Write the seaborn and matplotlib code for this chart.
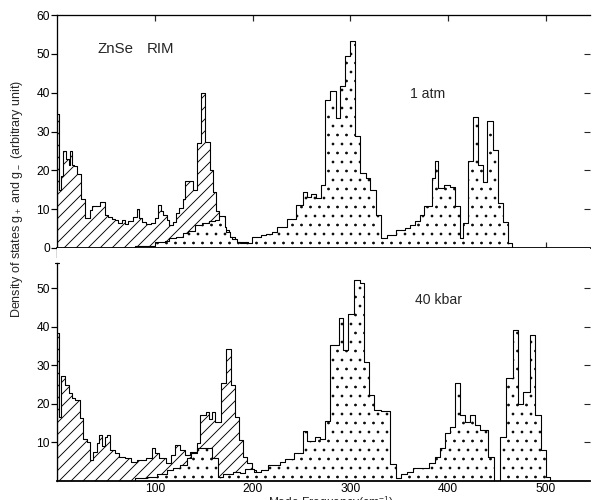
import numpy as np
import pandas as pd
import matplotlib
matplotlib.use("Agg")
import matplotlib.pyplot as plt
import matplotlib.hatch as mhatch
import seaborn as sns

# ---- phonon density-of-states histograms (mode frequency in cm^-1) ----
# 1 atm, acoustic-like band (hatched)
atm_hatched_edges = [0, 2, 4, 6.5, 9, 12, 13.5, 15, 17.5, 20, 24.5, 29, 34, 36, 39, 44, 49,
                     52.5, 56, 59, 62.5, 66, 69.5, 73, 78, 81.5, 84, 87, 91.5, 96.5, 100,
                     103.5, 106, 108.5, 112, 115, 118.5, 122, 125, 129, 131, 139, 143,
                     147.5, 151.5, 156, 160, 163, 166, 171, 176, 182, 195, 215, 260]
atm_hatched_heights = [34.5, 15, 18.5, 25, 23, 21.5, 25, 21.5, 21, 19, 12.5, 7.6, 9.8, 10.8,
                       10.7, 11.9, 8.5, 7.9, 7.4, 7.2, 6.4, 7.2, 6.1, 7, 8, 10, 7.6, 6.8, 6.2,
                       6.5, 7.6, 11, 9.4, 8.5, 7.2, 5.9, 6.8, 9, 10.2, 12.5, 17.3, 15, 27, 40,
                       27.3, 20, 14.5, 9.5, 8, 4.6, 2.8, 1.5, 0.6, 0.3]

# 1 atm, optic-like band (dotted)
atm_dotted_edges = [80, 90, 100, 110, 115, 122, 129, 134, 141, 148, 155, 161.5, 166, 172, 173,
                    177, 179, 184, 187, 199, 209, 214, 220, 225, 235, 244, 252, 256, 260, 265,
                    270, 274.5, 279.5, 285, 289.5, 294.5, 300, 305, 310, 316, 320, 326, 331,
                    337, 347, 356, 361, 366, 371, 375, 383, 386, 390, 396, 402, 407, 412, 415,
                    420, 425.5, 430.5, 436, 440, 445.5, 451, 456, 461, 465]
atm_dotted_heights = [0.6, 0.4, 1.6, 1.8, 2.5, 2.9, 3.8, 4.4, 5.9, 6.5, 7.0, 7.2, 8.2, 5.5, 4.2,
                      2.9, 2.2, 1.6, 1.2, 2.9, 3.4, 3.6, 4.2, 5.3, 7.4, 11.1, 14.5, 13.2, 13.8,
                      12.8, 16.2, 38, 40.5, 33.4, 41.7, 49.5, 53.4, 28.8, 19.2, 18, 15, 8.5,
                      2.6, 3.4, 4.6, 5.2, 5.8, 6.9, 8.5, 10.7, 18, 22.3, 15.4, 16.2, 15.8, 10.7,
                      2.5, 6.4, 22.3, 33.7, 21.5, 17, 32.8, 25.3, 11.5, 6.7, 1.2]

# 40 kbar, acoustic-like band (hatched)
kbar_hatched_edges = [0, 2, 4.5, 8.5, 12, 15, 18.5, 23.5, 27, 30.3, 33.7, 37, 40.5, 43.3, 46,
                      49, 51, 54, 59, 63, 70, 76, 81.5, 91.5, 97, 100, 104, 111, 117, 121, 126,
                      131, 136, 143, 146, 152, 155, 158, 161.5, 168, 173, 177.5, 182, 186, 190,
                      194, 199, 203, 230, 270]
kbar_hatched_heights = [38.5, 16.5, 27.2, 25, 22.8, 21.5, 21, 16.3, 11, 10.2, 5.5, 7.6, 9.8, 12,
                        9.2, 11.5, 12, 8, 7.2, 6.3, 5.9, 5, 5.5, 5.9, 8.5, 7.2, 5.9, 4.8, 6.8,
                        9.4, 8, 6.8, 7.6, 9.8, 17.1, 17.8, 16.2, 18, 15.4, 25.4, 34.3, 25, 16.7,
                        10.6, 6.3, 4.6, 2.9, 1.2, 0.4]

# 40 kbar, optic-like band (dotted)
kbar_dotted_edges = [80, 92, 102, 112, 119, 126, 132.5, 137.5, 143, 158, 165, 170, 180, 187, 192,
                     201, 209, 216, 228, 233, 242, 252, 255.5, 264, 269, 274.5, 279, 288.5,
                     292.5, 298, 304, 310, 314, 319, 324.5, 331, 340, 347, 352, 358, 364, 380,
                     386.5, 391.5, 396.5, 402, 407, 412, 417, 422, 427.5, 432.5, 441, 447, 453,
                     459, 466, 471, 477, 483.5, 489, 495, 500, 504]
kbar_dotted_heights = [0.7, 1.1, 1.8, 2.9, 3.3, 4.2, 5.9, 7.2, 8.5, 5.9, 1.1, 1.8, 2.4, 2.0, 3.0,
                       2.4, 2.9, 4.2, 5.0, 5.8, 7.2, 12.9, 10.4, 11.5, 11, 15.6, 35.3, 42.3, 34,
                       43.3, 52.3, 51.3, 30.8, 22.3, 18.4, 18.2, 4.5, 0.8, 1.8, 2.4, 3.3, 4.6,
                       6.3, 8.5, 12.4, 14.1, 25.4, 17.1, 15.4, 17.1, 14.5, 13.2, 6.3, 0, 11.5,
                       26.7, 39.2, 20, 23, 37.9, 17.1, 8, 1.1]

x_ticks = [100, 200, 300, 400, 500]
top_yticks = [0, 10, 20, 30, 40, 50, 60]
bottom_yticks = [10, 20, 30, 40, 50]


# Finer stipple: small filled dots, 8 rows per hatch cell (even count keeps the
# staggered row layout consistent)
class FineStipple(mhatch.Circles):
    size = 0.1
    filled = True

    def __init__(self, hatch, density):
        rows = int(round(hatch.count('.') * density * 4 / 3))
        self.num_rows = rows + (rows % 2)
        super().__init__(hatch, density)


mhatch._hatch_types = [FineStipple if t is mhatch.SmallFilledCircles else t
                       for t in mhatch._hatch_types]

sns.set_theme(style="white")
plt.rcParams["font.family"] = ["Liberation Sans", "DejaVu Sans"]
plt.rcParams["mathtext.default"] = "regular"
plt.rcParams["hatch.linewidth"] = 0.9
plt.rcParams["hatch.color"] = "black"

W, H = 592, 500
fig = plt.figure(figsize=(W / 72, H / 72), dpi=72)
fig.patch.set_facecolor("white")

left_px, right_px = 57, 590
ax_top = fig.add_axes([left_px / W, (H - 248) / H, (right_px - left_px) / W, 233 / H])
ax_bot = fig.add_axes([left_px / W, (H - 481) / H, (right_px - left_px) / W, 233 / H])


def band(ax, edges, heights, hatch, z):
    edges = [float(e) for e in edges]
    centers = [0.5 * (a + b) for a, b in zip(edges[:-1], edges[1:])]
    df = pd.DataFrame({"freq": centers, "dos": [float(h) for h in heights]})
    sns.histplot(data=df, x="freq", weights="dos", bins=edges, element="step", fill=True,
                 facecolor="white", edgecolor="black", linewidth=1.1, hatch=hatch,
                 alpha=1, ax=ax, zorder=z)


band(ax_top, atm_hatched_edges, atm_hatched_heights, "//", 2)
band(ax_top, atm_dotted_edges, atm_dotted_heights, ".", 3)
band(ax_bot, kbar_hatched_edges, kbar_hatched_heights, "//", 2)
band(ax_bot, kbar_dotted_edges, kbar_dotted_heights, ".", 3)

for ax, ymax in ((ax_top, 60), (ax_bot, 60.5)):
    ax.set_xlim(0, 545)
    ax.set_ylim(0, ymax)
    ax.set_xlabel("")
    ax.set_ylabel("")
    ax.set_facecolor("white")
    ax.grid(False)
    ax.set_xticks(x_ticks)
    ax.spines["right"].set_visible(False)
    for s in ("left", "top", "bottom"):
        ax.spines[s].set_color("black")
        ax.spines[s].set_linewidth(1.3)
    ax.spines["bottom"].set_linewidth(1.8)
    ax.spines["bottom"].set_zorder(5)
    ax.tick_params(axis="y", which="major", left=True, direction="out", length=6,
                   width=1.2, pad=1, labelsize=12, colors="black")
    right = ax.secondary_yaxis("right")
    right.set_yticks(bottom_yticks)
    right.tick_params(direction="in", length=6, width=1.1, labelright=False)
    right.spines["right"].set_visible(False)

# upper panel: 1 atm
ax_top.set_yticks(top_yticks)
ax_top.spines["left"].set_bounds(-2.3, 60)
ax_top.tick_params(axis="x", top=True, bottom=True, direction="in", length=6, width=1.2,
                   labelbottom=False)
ax_top.text(41, 51.3, "ZnSe", fontsize=15, va="center", ha="left")
ax_top.text(92, 51.3, "RIM", fontsize=15, va="center", ha="left")
ax_top.text(361, 39.7, "1 atm", fontsize=14, va="center", ha="left")

# lower panel: 40 kbar
ax_bot.set_yticks(bottom_yticks)
ax_bot.spines["top"].set_visible(False)
ax_bot.spines["left"].set_bounds(0, 56.5)
ax_bot.plot([-2.5, 2.5], [56.5, 56.5], color="black", lw=1.2, clip_on=False)
ax_bot.tick_params(axis="x", bottom=True, top=False, direction="in", length=0,
                   pad=2, labelsize=12, colors="black")
ax_bot.text(366, 47, "40 kbar", fontsize=14, va="center", ha="left")

fig.text(17 / W, 1 - 199 / H, "Density of states g$_+$ and g$_-$ (arbitrary unit)",
         rotation=90, ha="center", va="center", fontsize=12.5)
fig.text(331 / W, (H - 494) / H, "Mode Frequency(cm$^{-1}$)", ha="center", va="top",
         fontsize=12)

fig.savefig("out.png", dpi=72, facecolor="white")
